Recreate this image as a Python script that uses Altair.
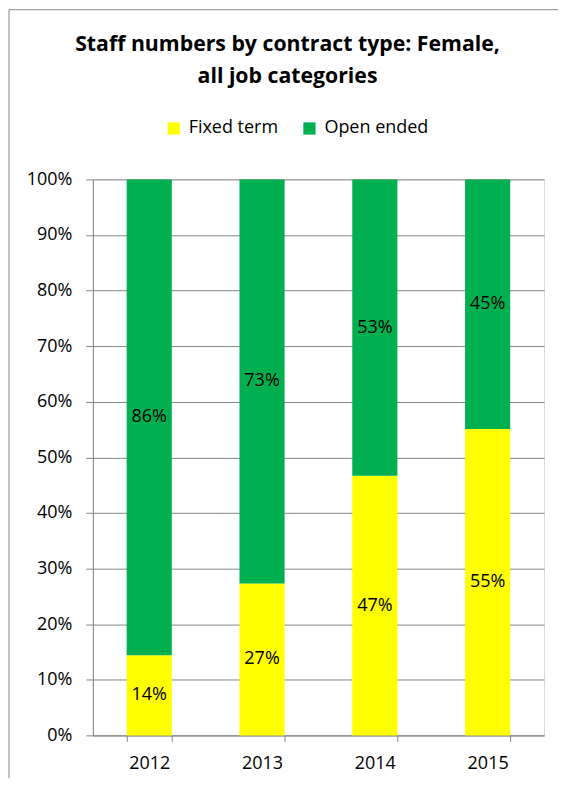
import altair as alt
import pandas as pd

years = ["2012", "2013", "2014", "2015"]
fixed_term = [0.144, 0.273, 0.467, 0.551]
open_ended = [0.856, 0.727, 0.533, 0.449]
series = ["Fixed term", "Open ended"]
colors = ["#FFFF00", "#00B050"]

rows = []
for i, y in enumerate(years):
    rows.append({"year": y, "type": series[0], "share": fixed_term[i], "ord": 0})
    rows.append({"year": y, "type": series[1], "share": open_ended[i], "ord": 1})
df = pd.DataFrame(rows)

FONT = "Open Sans"
GRID = "#868686"

x_enc = alt.X(
    "year:N",
    title=None,
    scale=alt.Scale(paddingInner=0.6, paddingOuter=0.3),
    axis=alt.Axis(
        labelAngle=0, labelFontSize=18, labelFont=FONT, labelColor="#000000",
        labelPadding=13, tickSize=6, tickColor=GRID, domainColor=GRID,
        tickBand="extent", grid=False,
    ),
)

bars = alt.Chart(df).mark_bar().encode(
    x=x_enc,
    y=alt.Y(
        "share:Q", stack="zero", title=None,
        scale=alt.Scale(domain=[0, 1], nice=False),
        axis=alt.Axis(
            values=[i / 10 for i in range(11)], format=".0%",
            labelFontSize=18, labelFont=FONT, labelColor="#000000",
            labelPadding=14, tickSize=7, tickColor=GRID, domainColor=GRID,
            grid=True, gridColor=GRID, gridWidth=1,
        ),
    ),
    color=alt.Color(
        "type:N",
        scale=alt.Scale(domain=series, range=colors),
        legend=alt.Legend(
            title=None, orient="none", direction="horizontal",
            legendX=72, legendY=-60, symbolType="square", symbolSize=150,
            symbolStrokeWidth=0, labelFontSize=18, labelFont=FONT,
            labelColor="#000000", labelOffset=6, columnPadding=22,
        ),
    ),
    order=alt.Order("ord:Q"),
)

labels = alt.Chart(df).transform_stack(
    stack="share", groupby=["year"], as_=["y0", "y1"],
    sort=[alt.SortField("ord", order="ascending")],
).transform_calculate(
    mid="(datum.y0 + datum.y1) / 2"
).mark_text(fontSize=18, font=FONT, color="#000000").encode(
    x=alt.X("year:N"),
    y=alt.Y("mid:Q"),
    text=alt.Text("share:Q", format=".0%"),
)

frame_df = pd.DataFrame({"k": [0]})
left_edge = alt.Chart(frame_df).mark_rule(color=GRID, strokeWidth=1).encode(
    x=alt.value(-84), y=alt.value(-170), y2=alt.value(600)
)
top_edge = alt.Chart(frame_df).mark_rule(color=GRID, strokeWidth=1).encode(
    x=alt.value(-84), x2=alt.value(466), y=alt.value(-170)
)

chart = alt.layer(bars, labels, left_edge, top_edge).properties(
    width=452,
    height=557,
    padding=0,
    title=alt.TitleParams(
        text=["Staff numbers by contract type: Female,", "all job categories"],
        fontSize=21.3, font=FONT, fontWeight="bold", color="#000000",
        anchor="middle", dx=-31, offset=-78, lineHeight=32,
    ),
).configure_view(stroke=None).configure(background="white")

chart.save("out.html", embed_options={"renderer": "svg", "actions": False})
